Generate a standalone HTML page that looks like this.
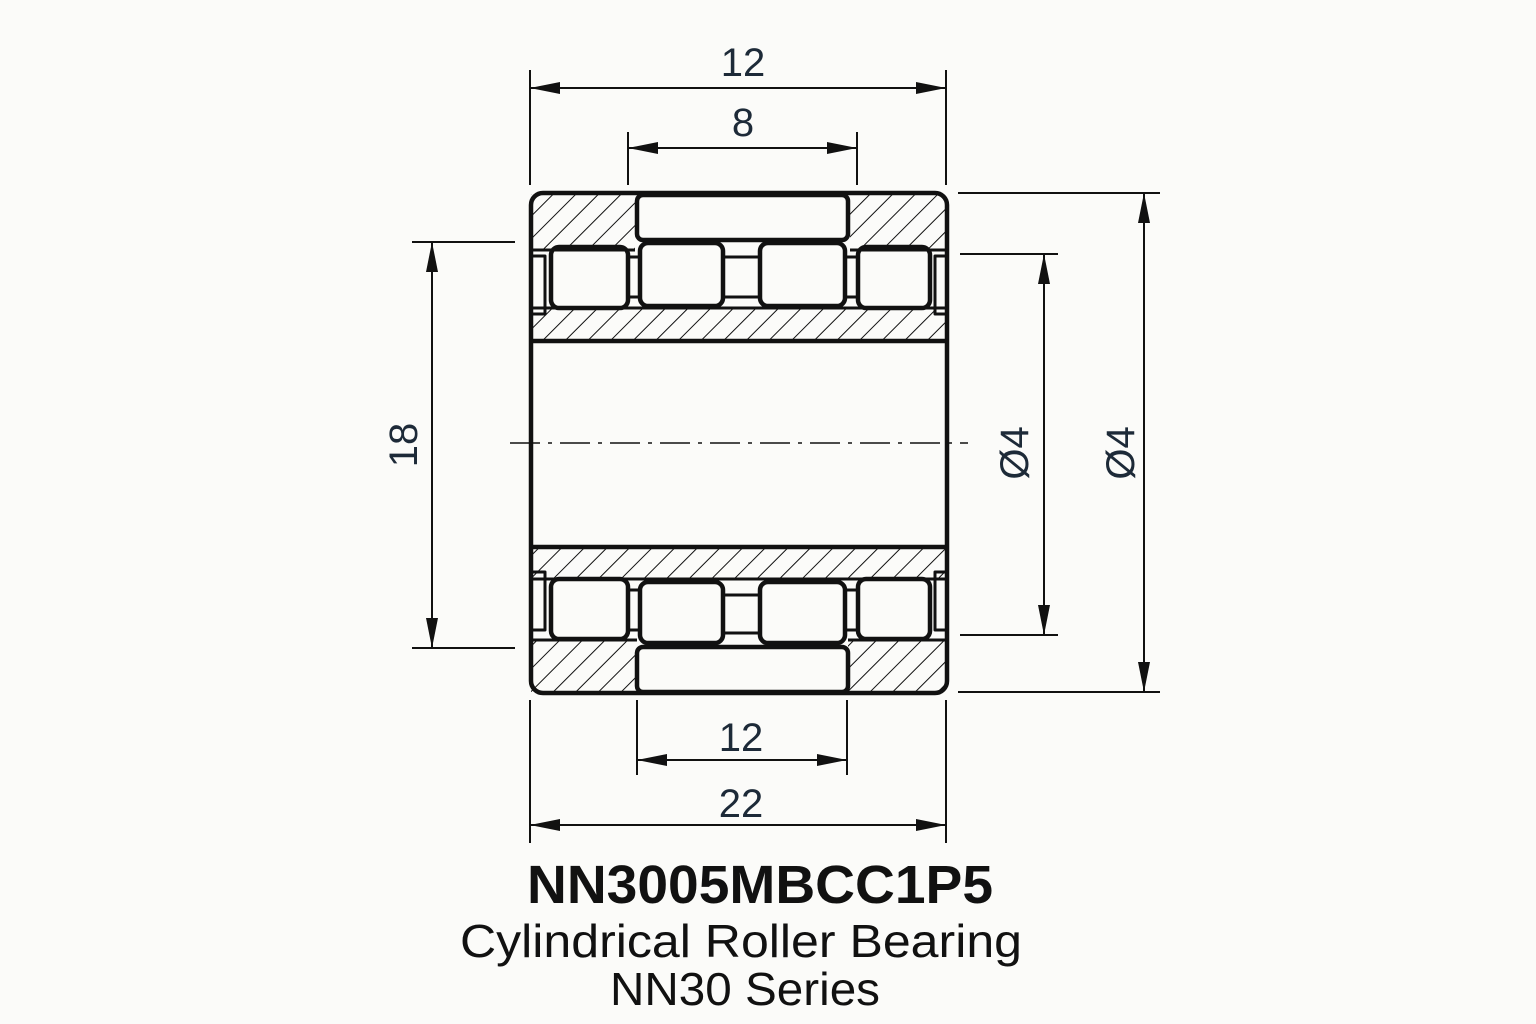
<!DOCTYPE html>
<html><head><meta charset="utf-8"><style>
html,body{margin:0;padding:0;background:#fbfbf9;}
svg{display:block}
text{font-family:"Liberation Sans",sans-serif;fill:#1d2a38}
</style></head><body>
<svg width="1536" height="1024" viewBox="0 0 1536 1024" xmlns="http://www.w3.org/2000/svg">
<defs>
<pattern id="h" patternUnits="userSpaceOnUse" width="16" height="16" patternTransform="rotate(45)">
<line x1="0" y1="0" x2="0" y2="16" stroke="#111" stroke-width="2"/>
</pattern>
<marker id="a" viewBox="0 0 30 12" refX="30" refY="6" markerWidth="30" markerHeight="12" markerUnits="userSpaceOnUse" orient="auto-start-reverse">
<path d="M0,0 L30,6 L0,12 Z" fill="#111"/>
</marker>
</defs>
<rect width="1536" height="1024" fill="#fbfbf9"/>

<g fill="url(#h)" stroke="none">
<rect x="531" y="194" width="104" height="56"/>
<rect x="850" y="194" width="97" height="56"/>
<rect x="531" y="308" width="416" height="32"/>
<rect x="531" y="549" width="416" height="30"/>
<rect x="531" y="640" width="107" height="52"/>
<rect x="848" y="640" width="99" height="52"/>
</g>

<g fill="none" stroke="#111" stroke-width="4.5" stroke-linejoin="round">
<rect x="531" y="193" width="416" height="500" rx="12"/>
<rect x="637" y="195" width="211" height="45" rx="6" fill="#fbfbf9"/>
<rect x="637" y="647" width="211" height="45" rx="6" fill="#fbfbf9"/>
<rect x="551" y="247" width="77" height="61" rx="8" fill="#fbfbf9"/>
<rect x="640" y="243" width="83" height="63" rx="8" fill="#fbfbf9"/>
<rect x="760" y="243" width="85" height="63" rx="8" fill="#fbfbf9"/>
<rect x="858" y="247" width="72" height="61" rx="8" fill="#fbfbf9"/>
<rect x="551" y="579" width="77" height="60" rx="8" fill="#fbfbf9"/>
<rect x="640" y="582" width="83" height="61" rx="8" fill="#fbfbf9"/>
<rect x="760" y="582" width="85" height="61" rx="8" fill="#fbfbf9"/>
<rect x="858" y="579" width="72" height="60" rx="8" fill="#fbfbf9"/>
<line x1="531" y1="308" x2="947" y2="308" stroke-width="3"/>
<line x1="531" y1="341" x2="947" y2="341"/>
<line x1="531" y1="547" x2="947" y2="547"/>
<line x1="531" y1="579" x2="947" y2="579" stroke-width="3"/>
<line x1="531" y1="250" x2="635" y2="250" stroke-width="3"/>
<line x1="850" y1="250" x2="947" y2="250" stroke-width="3"/>
<line x1="531" y1="640" x2="637" y2="640" stroke-width="3"/>
<line x1="848" y1="640" x2="947" y2="640" stroke-width="3"/>
<line x1="628" y1="257" x2="640" y2="257" stroke-width="3"/>
<line x1="628" y1="297" x2="640" y2="297" stroke-width="3"/>
<line x1="723" y1="257" x2="760" y2="257" stroke-width="3"/>
<line x1="723" y1="297" x2="760" y2="297" stroke-width="3"/>
<line x1="845" y1="257" x2="858" y2="257" stroke-width="3"/>
<line x1="845" y1="297" x2="858" y2="297" stroke-width="3"/>
<line x1="628" y1="590" x2="640" y2="590" stroke-width="3"/>
<line x1="628" y1="630" x2="640" y2="630" stroke-width="3"/>
<line x1="723" y1="595" x2="760" y2="595" stroke-width="3"/>
<line x1="723" y1="633" x2="760" y2="633" stroke-width="3"/>
<line x1="845" y1="590" x2="858" y2="590" stroke-width="3"/>
<line x1="845" y1="630" x2="858" y2="630" stroke-width="3"/>
<path d="M533,256 H545 V314 H533" stroke-width="3"/>
<path d="M945,256 H935 V314 H945" stroke-width="3"/>
<path d="M533,572 H545 V630 H533" stroke-width="3"/>
<path d="M945,572 H935 V630 H945" stroke-width="3"/>
</g>

<line x1="510" y1="443" x2="968" y2="443" stroke="#111" stroke-width="1.6" stroke-dasharray="30,8,4,8"/>

<g stroke="#111" stroke-width="2" fill="none">
<line x1="530" y1="70" x2="530" y2="185"/>
<line x1="946" y1="70" x2="946" y2="185"/>
<line x1="530" y1="88" x2="946" y2="88" marker-start="url(#a)" marker-end="url(#a)"/>
<line x1="628" y1="132" x2="628" y2="185"/>
<line x1="857" y1="132" x2="857" y2="185"/>
<line x1="628" y1="148" x2="857" y2="148" marker-start="url(#a)" marker-end="url(#a)"/>
<line x1="637" y1="700" x2="637" y2="775"/>
<line x1="847" y1="700" x2="847" y2="775"/>
<line x1="637" y1="760" x2="847" y2="760" marker-start="url(#a)" marker-end="url(#a)"/>
<line x1="530" y1="700" x2="530" y2="843"/>
<line x1="946" y1="700" x2="946" y2="843"/>
<line x1="530" y1="825" x2="946" y2="825" marker-start="url(#a)" marker-end="url(#a)"/>
<line x1="412" y1="242" x2="515" y2="242"/>
<line x1="412" y1="648" x2="515" y2="648"/>
<line x1="432" y1="242" x2="432" y2="648" marker-start="url(#a)" marker-end="url(#a)"/>
<line x1="960" y1="254" x2="1058" y2="254"/>
<line x1="960" y1="635" x2="1058" y2="635"/>
<line x1="1044" y1="254" x2="1044" y2="635" marker-start="url(#a)" marker-end="url(#a)"/>
<line x1="958" y1="193" x2="1160" y2="193"/>
<line x1="958" y1="692" x2="1160" y2="692"/>
<line x1="1144" y1="193" x2="1144" y2="692" marker-start="url(#a)" marker-end="url(#a)"/>
</g>

<g font-size="40" text-anchor="middle">
<text x="743" y="76">12</text>
<text x="743" y="136">8</text>
<text x="741" y="751">12</text>
<text x="741" y="817">22</text>
<text transform="translate(417,445) rotate(-90)">18</text>
<text transform="translate(1028,453) rotate(-90)">Ø4</text>
<text transform="translate(1134,453) rotate(-90)">Ø4</text>
</g>

<text x="527" y="903" font-size="54" font-weight="bold" textLength="466" lengthAdjust="spacingAndGlyphs" style="fill:#111">NN3005MBCC1P5</text>
<text x="460" y="957" font-size="46" textLength="562" lengthAdjust="spacingAndGlyphs" style="fill:#111">Cylindrical Roller Bearing</text>
<text x="610" y="1005" font-size="46" textLength="270" lengthAdjust="spacingAndGlyphs" style="fill:#111">NN30 Series</text>
</svg>
</body></html>
